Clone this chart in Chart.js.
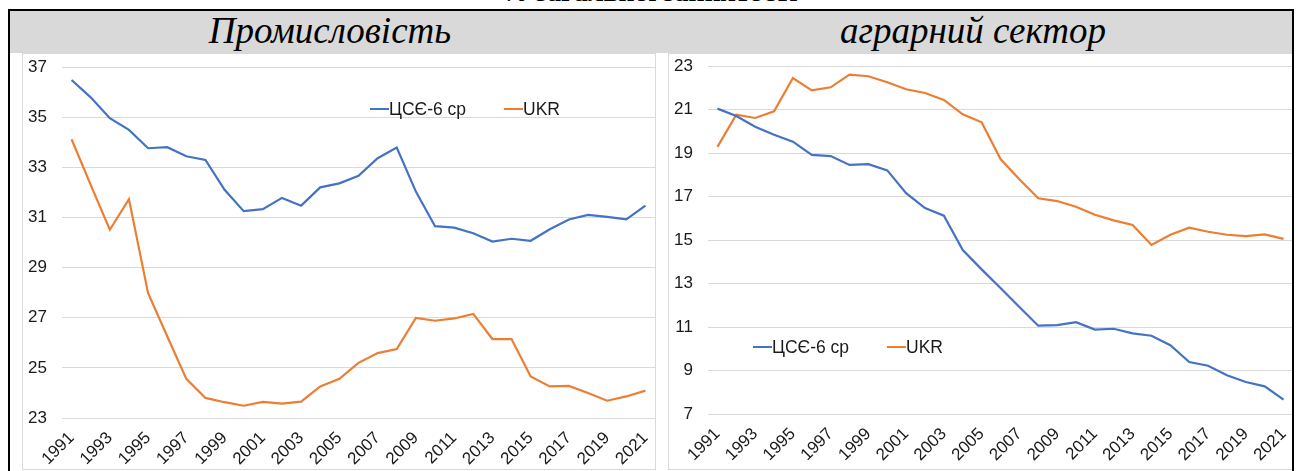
<!DOCTYPE html>
<html>
<head>
<meta charset="utf-8">
<script src="https://cdn.jsdelivr.net/npm/chart.js@4.4.1/dist/chart.umd.min.js"></script>
<style>
  body { margin: 0; width: 1298px; height: 471px; overflow: hidden; background: #fff; position: relative; }
  .cap { position: absolute; left: 0; width: 1298px; top: -24px; text-align: center; font: bold 28px "Liberation Serif", serif; color: #000; }
  .frame { position: absolute; left: 8px; top: 9px; width: 1286px; height: 480px; box-sizing: border-box; border: 2px solid #000; z-index: 5; pointer-events: none; }
  .head { position: absolute; left: 10px; top: 11px; width: 1282px; height: 42px; background: #d9d9d9; }
  .title { position: absolute; top: 9px; font: italic 37px "Liberation Serif", serif; color: #000; text-align: center; width: 500px; }
  .box { position: absolute; top: 53px; height: 417px; box-sizing: border-box; border: 1px solid #d9d9d9; background: #fff; }
  .box canvas { display: block; }
</style>
</head>
<body>
<div class="cap">% загальної зайнятості</div>
<div class="head"></div>
<div class="title" style="left:80px">Промисловість</div>
<div class="title" style="left:723px">аграрний сектор</div>
<div class="box" style="left:22px;width:634px"><canvas id="ind" width="632" height="415"></canvas></div>
<div class="box" style="left:668px;width:626px"><canvas id="agr" width="624" height="415"></canvas></div>
<div class="frame"></div>

<script>
// years on the x axis
const years = ["1991","1992","1993","1994","1995","1996","1997","1998","1999","2000",
  "2001","2002","2003","2004","2005","2006","2007","2008","2009","2010",
  "2011","2012","2013","2014","2015","2016","2017","2018","2019","2020","2021"];

const seriesNames = ["ЦСЄ-6 ср", "UKR"];

// industry, % of total employment
const indCEE = [36.48, 35.79, 34.96, 34.49, 33.76, 33.80, 33.44, 33.29, 32.10, 31.25,
  31.33, 31.78, 31.47, 32.20, 32.36, 32.66, 33.36, 33.79, 32.03, 30.65,
  30.59, 30.37, 30.04, 30.15, 30.07, 30.53, 30.92, 31.10, 31.02, 30.92, 31.47];
const indUKR = [34.12, 32.30, 30.51, 31.73, 27.98, 26.26, 24.56, 23.80, 23.63, 23.49,
  23.64, 23.57, 23.65, 24.26, 24.56, 25.20, 25.59, 25.75, 26.99, 26.88,
  26.97, 27.15, 26.15, 26.15, 24.66, 24.26, 24.28, 24.00, 23.69, 23.86, 24.09];

// agriculture, % of total employment
const agrCEE = [21.04, 20.70, 20.21, 19.84, 19.52, 18.91, 18.86, 18.45, 18.49, 18.20,
  17.15, 16.47, 16.12, 14.54, 13.65, 12.79, 11.92, 11.06, 11.09, 11.22,
  10.88, 10.92, 10.71, 10.60, 10.16, 9.39, 9.22, 8.78, 8.47, 8.27, 7.66];
const agrUKR = [19.28, 20.76, 20.61, 20.92, 22.45, 21.88, 22.02, 22.60, 22.53, 22.25,
  21.93, 21.76, 21.44, 20.78, 20.41, 18.72, 17.79, 16.92, 16.79, 16.53,
  16.16, 15.90, 15.69, 14.77, 15.24, 15.57, 15.38, 15.24, 15.18, 15.26, 15.05];

const BLUE = "#4472c4";
const ORANGE = "#ed7d31";
const FONT = { family: "'Liberation Sans', Arial, sans-serif", size: 17 };

// legend drawn inside the plot, like the Excel original
const inlineLegend = {
  id: "inlineLegend",
  afterDraw(chart, args, opts) {
    const ctx = chart.ctx;
    ctx.save();
    ctx.font = "17.5px 'Liberation Sans', Arial, sans-serif";
    ctx.textBaseline = "middle";
    ctx.textAlign = "left";
    chart.data.datasets.forEach((ds, i) => {
      const x = opts.xs[i];
      ctx.strokeStyle = ds.borderColor;
      ctx.lineWidth = 2;
      ctx.beginPath();
      ctx.moveTo(x, opts.y);
      ctx.lineTo(x + 19, opts.y);
      ctx.stroke();
      ctx.fillStyle = "#1a1a1a";
      ctx.fillText(ds.label, x + 19, opts.y + 1);
    });
    ctx.restore();
  }
};

function makeChart(id, cee, ukr, yMin, yMax, cfg) {
  return new Chart(document.getElementById(id), {
    type: "line",
    data: {
      labels: years,
      datasets: [
        { label: seriesNames[0], data: cee, borderColor: BLUE, borderWidth: 2.2, pointRadius: 0, tension: 0 },
        { label: seriesNames[1], data: ukr, borderColor: ORANGE, borderWidth: 2.2, pointRadius: 0, tension: 0 },
      ],
    },
    options: {
      responsive: false,
      animation: false,
      layout: { padding: { top: cfg.top, left: 0, right: 0, bottom: 0 } },
      plugins: {
        legend: { display: false },
        tooltip: { enabled: false },
        inlineLegend: cfg.legend,
      },
      scales: {
        x: {
          offset: true,
          border: { display: false },
          grid: { display: false },
          ticks: {
            autoSkip: false,
            minRotation: 45,
            maxRotation: 45,
            padding: 2,
            color: "#1a1a1a",
            font: FONT,
            callback: (v, i) => (i % 2 === 0 ? years[i] : ""),
          },
          afterFit(scale) {
            scale.height = cfg.xh;
            scale.paddingLeft = 0;
            scale.paddingRight = 0;
          },
        },
        y: {
          min: yMin,
          max: yMax,
          border: { display: false },
          grid: { color: "#d9d9d9", lineWidth: 1, drawTicks: false },
          ticks: { stepSize: 2, padding: 15, color: "#1a1a1a", font: FONT },
          afterFit(scale) {
            scale.width = 39;
            scale.paddingTop = 0;
            scale.paddingBottom = 0;
          },
        },
      },
    },
    plugins: [inlineLegend],
  });
}

makeChart("ind", indCEE, indUKR, 23, 37, { top: 13, xh: 51, legend: { xs: [347, 481], y: 55 } });
makeChart("agr", agrCEE, agrUKR, 7, 23, { top: 12, xh: 55, legend: { xs: [84, 218], y: 293 } });
</script>
</body>
</html>
